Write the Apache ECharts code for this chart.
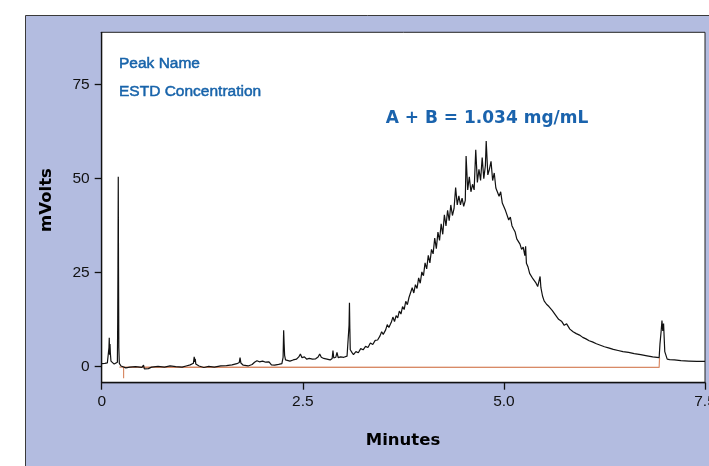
<!DOCTYPE html>
<html>
<head>
<meta charset="utf-8">
<script src="https://cdn.jsdelivr.net/npm/echarts@6/dist/echarts.min.js"></script>
<style>
html,body{margin:0;padding:0;background:#fff;}
#chart{width:709px;height:466px;}
</style>
</head>
<body>
<div id="chart"></div>
<script>
// ---- data (minutes, mVolts) ----
const xTickValues = [0, 2.5, 5.0, 7.5];
const yTickValues = [0, 25, 50, 75];

const solventFront = [
  [0.00,0.8],[0.04,0.9],[0.07,1.0],[0.085,1.3],[0.090,5.0],[0.094,7.7],[0.098,3.2],
  [0.103,6.0],[0.108,3.5],[0.115,1.5],[0.135,1.0],[0.155,0.7],[0.175,0.9],[0.195,1.2],
  [0.199,12],[0.202,26.5],[0.206,50.5],[0.209,26],[0.213,5],[0.219,0.9],[0.24,0.2],
  [0.26,-0.2],[0.30,-0.3]
];
const earlyBaseline = [
  [0.35,-0.1],[0.42,0.0],[0.50,-0.2],[0.52,0.4],[0.53,-0.6],[0.58,-0.5],[0.62,-0.1],
  [0.70,0.1],[0.78,-0.1],[0.85,0.2],[0.92,0.0],[1.00,-0.1],[1.05,0.2],[1.10,0.5],
  [1.14,0.9],[1.15,2.6],[1.157,1.3],[1.163,2.1],[1.17,0.7],[1.21,0.2],[1.27,-0.2],
  [1.33,0.1],[1.40,-0.1],[1.48,0.2],[1.55,0.3],[1.62,0.5],[1.68,0.8],[1.71,1.1],
  [1.72,2.4],[1.73,1.0],[1.76,0.4],[1.82,0.2],[1.87,0.6],[1.90,1.2],[1.93,1.6],
  [1.96,1.3],[2.00,1.5],[2.04,1.2],[2.08,1.3],[2.11,0.5],[2.15,0.4],[2.20,0.6],[2.24,0.8]
];
const preHump = [
  [2.255,2.5],[2.262,9.7],[2.268,6],[2.274,3],[2.285,1.8],[2.30,1.6],[2.34,1.5],
  [2.38,1.8],[2.42,2.0],[2.45,2.6],[2.47,3.4],[2.49,2.4],[2.52,2.6],[2.55,2.0],
  [2.58,2.2],[2.62,2.0],[2.66,2.1],[2.69,2.6],[2.71,3.4],[2.73,2.5],[2.76,2.2],
  [2.80,2.0],[2.84,1.8],[2.865,2.2],[2.875,4.3],[2.885,2.3],[2.91,2.5],[2.925,3.8],
  [2.94,2.4],[2.97,2.6],[3.01,2.5],[3.05,2.8],[3.07,3.2],[3.075,11],[3.08,17],
  [3.085,10],[3.09,4.5]
];
const mainPeak = [
  [3.11,3.8],[3.13,3.2],[3.16,4.0],[3.19,3.7],[3.22,4.8],[3.25,4.5],[3.28,5.4],[3.31,5.1],
  [3.34,6.3],[3.37,5.9],[3.40,7.0],[3.43,7.1],[3.46,8.2],[3.48,9.3],[3.50,8.6],[3.53,9.8],
  [3.55,11.2],[3.57,10.4],[3.60,11.8],[3.62,13.2],[3.64,12.0],[3.66,13.6],[3.68,13.0],
  [3.70,14.8],[3.72,14.0],[3.74,16.0],[3.76,15.2],[3.78,17.4],[3.80,16.5],[3.82,18.4],
  [3.84,18.0],[3.86,21.0],[3.88,19.6],[3.90,21.8],[3.92,20.8],[3.94,23.6],[3.96,22.2],
  [3.98,25.2],[4.00,24.2],[4.02,27.6],[4.04,26.0],[4.06,29.6],[4.08,27.6],[4.10,31.2],
  [4.12,30.0],[4.14,34.2],[4.16,31.4],[4.18,35.8],[4.20,33.6],[4.22,38.0],[4.24,35.2],
  [4.26,40.4],[4.28,37.4],[4.30,41.6],[4.32,38.8],[4.34,43.0],[4.36,40.2],[4.38,42.0],
  [4.40,47.6],[4.42,43.0],[4.44,45.4],[4.46,43.0],[4.48,44.8],[4.50,42.6],[4.52,44.2],
  [4.53,56.0],[4.55,47.0],[4.57,50.5],[4.59,46.5],[4.61,48.5],[4.63,47.0],[4.65,57.7],
  [4.67,49.0],[4.69,52.5],[4.71,49.5],[4.73,55.6],[4.75,50.0],[4.77,53.5],[4.78,60.0],
  [4.80,51.0],[4.82,52.5],[4.84,54.6],[4.86,49.5],[4.88,51.5],[4.90,47.5],[4.92,48.0],
  [4.94,45.3],[4.96,46.5],[4.98,43.5],[5.00,44.0],[5.02,41.5],[5.04,42.0],[5.06,39.0],
  [5.08,39.8],[5.10,37.5],[5.12,36.6],[5.14,35.8],[5.16,34.0],[5.18,34.5],[5.20,32.6],
  [5.22,31.2],[5.24,31.8],[5.26,29.5],[5.27,32.0],[5.28,27.5],[5.30,26.5],[5.32,24.8],
  [5.34,25.3],[5.36,23.4],[5.38,23.0],[5.40,22.2],[5.42,21.3],[5.44,21.5],[5.45,24.0],
  [5.46,21.0],[5.48,18.8],[5.50,17.5]
];
const tail = [
  [5.53,16.6],[5.56,16.0],[5.60,15.0],[5.64,13.8],[5.68,12.6],[5.72,12.0],[5.75,11.0],
  [5.78,11.4],[5.82,10.0],[5.86,9.3],[5.90,8.8],[5.94,8.4],[5.98,7.8],[6.02,7.4],
  [6.06,6.9],[6.10,6.6],[6.15,6.1],[6.20,5.7],[6.25,5.3],[6.30,5.0],[6.36,4.6],
  [6.42,4.3],[6.48,4.0],[6.55,3.8],[6.62,3.5],[6.70,3.2],[6.78,2.9],[6.85,2.6],
  [6.93,2.4],[6.94,6.0],[6.955,9.5],[6.965,12.3],[6.975,9.5],[6.985,11.5],[7.00,4.0],
  [7.03,2.0],[7.06,1.9],[7.12,1.8],[7.20,1.6],[7.30,1.5],[7.40,1.4],[7.50,1.4]
];
const integrationBaseline = [
  [0.22,-0.1],[0.272,-0.1],[0.272,-3.1],[0.272,-0.1],[6.93,-0.2],[6.935,2.4]
];

const signal = solventFront.concat(earlyBaseline, preHump, mainPeak, tail);

const chart = echarts.init(document.getElementById('chart'), null, {renderer:'canvas'});
const FONT = '"Liberation Sans", Arial, sans-serif';
const BOLD = '"DejaVu Sans", sans-serif';

chart.setOption({
  animation: false,
  backgroundColor: '#ffffff',
  textStyle: { fontFamily: FONT },
  graphic: [
    { type:'rect', z:-10, silent:true,
      shape:{ x:25.5, y:15.5, width:720, height:480 },
      style:{ fill:'#b3bce0', stroke:'#3a3a3a', lineWidth:1 } },
    { type:'text', z:100, x:119, y:63.8,
      style:{ text:'Peak Name', fill:'#1763aa', stroke:'#1763aa', lineWidth:0.5, font:'15.5px ' + FONT, align:'left', verticalAlign:'middle' } },
    { type:'text', z:100, x:119, y:91.6,
      style:{ text:'ESTD Concentration', fill:'#1763aa', stroke:'#1763aa', lineWidth:0.5, font:'15.5px ' + FONT, align:'left', verticalAlign:'middle' } },
    { type:'text', z:100, x:487, y:118.2,
      style:{ text:'A + B = 1.034 mg/mL', fill:'#1a63ad', font:'bold 17px ' + BOLD, align:'center', verticalAlign:'middle' } },
    { type:'text', z:100, x:403, y:440.3,
      style:{ text:'Minutes', fill:'#000', font:'bold 16.5px ' + BOLD, align:'center', verticalAlign:'middle' } },
    { type:'text', z:100, x:47, y:200, rotation: Math.PI/2,
      style:{ text:'mVolts', fill:'#000', font:'bold 16.5px ' + BOLD, align:'center', verticalAlign:'middle' } }
  ],
  grid: {
    left: 101.7, right: 4, top: 32.3, bottom: 83.3,
    outerBoundsMode: 'none', containLabel: false,
    show: true, backgroundColor: '#ffffff', borderColor: '#222', borderWidth: 1
  },
  xAxis: {
    type: 'value', min: 0, max: 7.5, interval: 2.5,
    axisLine: { show:true, onZero:false, lineStyle:{ color:'#111', width:1.3 } },
    axisTick: { show:true, length:7, lineStyle:{ color:'#111', width:1.3 } },
    splitLine: { show:false },
    axisLabel: { color:'#111', fontSize:15.5, margin:11, fontFamily: FONT,
      showMaxLabel: true, hideOverlap: false,
      formatter: v => (v === 0 ? '0' : v.toFixed(1)) }
  },
  yAxis: {
    type: 'value', min: -4.25, max: 88.9,
    axisLine: { show:true, onZero:false, lineStyle:{ color:'#111', width:1.3 } },
    axisTick: { show:true, length:7, customValues: yTickValues, lineStyle:{ color:'#111', width:1.3 } },
    splitLine: { show:false },
    axisLabel: { color:'#111', fontSize:15.5, margin:12, fontFamily: FONT, customValues: yTickValues }
  },
  series: [
    { type:'line', data: integrationBaseline, symbol:'none', silent:true,
      lineStyle:{ color:'#d88a66', width:1.2 }, z:2 },
    { type:'line', data: signal, symbol:'none', silent:true,
      lineStyle:{ color:'#111111', width:1.2 }, z:3 }
  ]
});
</script>
</body>
</html>
